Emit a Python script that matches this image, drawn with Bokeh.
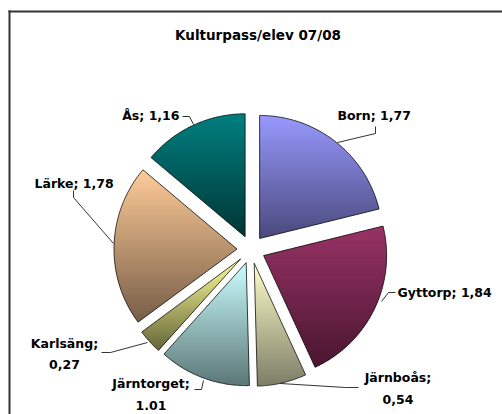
import numpy as np
from bokeh.plotting import figure
from bokeh.embed import file_html
from bokeh.resources import INLINE
from bokeh.core.properties import value

# ---------------- data ----------------
title_text = "Kulturpass/elev 07/08"
names = ["Born", "Gyttorp", "Järnboås", "Järntorget", "Karlsäng", "Lärke", "Ås"]
values = [1.77, 1.84, 0.54, 1.01, 0.27, 1.78, 1.16]
value_texts = ["1,77", "1,84", "0,54", "1.01", "0,27", "1,78", "1,16"]
two_line = [False, False, True, True, True, False, False]
top_colors = ["#9999FF", "#993366", "#FFFFCC", "#CCFFFF", "#FFFF99", "#FFCC99", "#008080"]
bottom_colors = ["#4A4A7E", "#4A1630", "#7E7E66", "#5C7878", "#66663A", "#785E48", "#003636"]

# ---------------- layout ----------------
W, H = 502, 414
def px(x):
    return x
def py(y):
    return H - y

CX, CY = px(250.5), py(249)
R = 123
EXPLODE = 14

# label anchors (page pixel coords) and alignment
label_layout = [
    (337, 115, "left"),
    (397, 292, "left"),
    (397.5, 388, "center"),
    (150.5, 394, "center"),
    (64, 353.5, "center"),
    (34, 183, "left"),
    (179, 115, "right"),
]
leader_layout = [
    [(375, 126), (375, 133), (337, 142)],
    [(395, 292), (388, 292), (381, 301)],
    [(358, 387), (345, 387), (280, 383)],
    [(194, 389), (201, 389), (203, 380)],
    [(101, 352), (110, 352), (147, 342)],
    [(73, 190), (73, 197), (113, 243)],
    [(182, 116), (189, 116), (193, 124)],
]

p = figure(width=W, height=H, x_range=(0, W), y_range=(0, H),
           output_backend="svg", toolbar_location=None, min_border=0,
           x_axis_location=None, y_axis_location=None)
p.grid.visible = False
p.outline_line_color = None
p.background_fill_color = "white"
p.border_fill_color = "white"

# frame (cropped chart area border)
p.multi_line(xs=[[px(8), px(520)], [px(9), px(9)]],
             ys=[[py(11), py(11)], [py(10), py(430)]],
             line_color="#333333", line_width=2)

# ---------------- pie geometry ----------------
vals = np.array(values, dtype=float)
frac = vals / vals.sum()
ends = np.cumsum(frac) * 2 * np.pi
starts = ends - frac * 2 * np.pi
mids = (starts + ends) / 2


def hex2rgb(h):
    h = h.lstrip("#")
    return np.array([int(h[i:i + 2], 16) for i in (0, 2, 4)], dtype=float)


def rgb2hex(c):
    c = np.clip(np.round(c), 0, 255).astype(int)
    return "#%02x%02x%02x" % tuple(c)


def clip(poly, a, keep_above):
    out = []
    n = len(poly)
    for i in range(n):
        cur = poly[i]
        prev = poly[i - 1]
        cin = cur[1] >= a if keep_above else cur[1] <= a
        pin = prev[1] >= a if keep_above else prev[1] <= a
        if cin:
            if not pin:
                t = (a - prev[1]) / (cur[1] - prev[1])
                out.append((prev[0] + t * (cur[0] - prev[0]), a))
            out.append(cur)
        elif pin:
            t = (a - prev[1]) / (cur[1] - prev[1])
            out.append((prev[0] + t * (cur[0] - prev[0]), a))
    return out


band_xs, band_ys, band_cols = [], [], []
out_xs, out_ys = [], []
for i in range(len(vals)):
    ox = CX + EXPLODE * np.sin(mids[i])
    oy = CY + EXPLODE * np.cos(mids[i])
    t = np.linspace(starts[i], ends[i], 80)
    poly = [(ox, oy)] + [(ox + R * np.sin(a), oy + R * np.cos(a)) for a in t]
    out_xs.append([q[0] for q in poly])
    out_ys.append([q[1] for q in poly])
    ys_ = [q[1] for q in poly]
    ymax, ymin = max(ys_), min(ys_)
    c0, c1 = hex2rgb(top_colors[i]), hex2rgb(bottom_colors[i])
    step = 1.5
    nb = int(np.ceil((ymax - ymin) / step))
    for b in range(nb):
        hi = ymax - b * step
        lo = max(ymin, hi - step)
        part = clip(poly, lo, True)
        if len(part) < 3:
            continue
        part = clip(part, min(ymax, hi + 1.0), False)
        if len(part) < 3:
            continue
        f = (ymax - (hi + lo) / 2) / (ymax - ymin)
        col = rgb2hex(c0 * (1 - f) + c1 * f)
        band_xs.append([q[0] for q in part])
        band_ys.append([q[1] for q in part])
        band_cols.append(col)

p.patches(xs=band_xs, ys=band_ys, fill_color=band_cols, line_color=None)
p.patches(xs=out_xs, ys=out_ys, fill_color=None, line_color="#111111",
          line_width=0.8)

# ---------------- leader lines ----------------
p.multi_line(xs=[[px(q[0]) for q in l] for l in leader_layout],
             ys=[[py(q[1]) for q in l] for l in leader_layout],
             line_color="#000000", line_width=0.8)

# ---------------- texts ----------------
font = value("DejaVu Sans")
p.text(x=[px(257.5)], y=[py(34)], text=[title_text], text_font=font,
       text_font_style="bold", text_font_size="13.5px", text_align="center",
       text_baseline="middle", text_color="#000000")

for align in ("left", "right", "center"):
    xs, ys, txt = [], [], []
    for i, (lx, ly, a) in enumerate(label_layout):
        if a != align:
            continue
        sep = ";\n" if two_line[i] else "; "
        xs.append(px(lx))
        ys.append(py(ly))
        txt.append(names[i] + sep + value_texts[i])
    if xs:
        p.text(x=xs, y=ys, text=txt, text_font=font, text_font_style="bold",
               text_font_size="12.5px", text_align=align, text_baseline="middle",
               text_line_height=1.45, text_color="#000000")

open("out.html", "w").write(file_html(p, INLINE))
